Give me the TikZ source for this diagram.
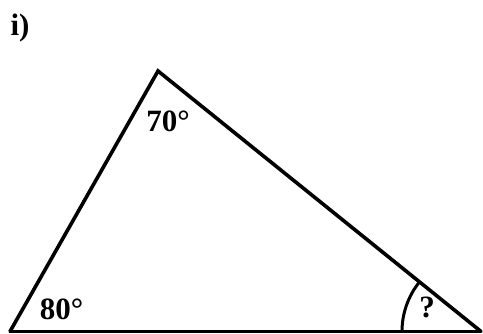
\documentclass[tikz,border=0pt]{standalone}
\usepackage{fontspec}
\setmainfont{Liberation Serif}
\usetikzlibrary{calc}
\begin{document}
\begin{tikzpicture}[x=1pt,y=1pt,
  side/.style={line width=3.6pt,line cap=round,line join=miter},
  base/.style={line width=2.4pt},
  lbl/.style={font=\bfseries\fontsize{31}{34}\selectfont,inner sep=0pt}]
\useasboundingbox (0,0) rectangle (483,334);
\coordinate (A) at (10,2.5);
\coordinate (B) at (158,263);
\coordinate (C) at (481,2.5);
\draw[side] (A) -- (B) -- (C);
\draw[base] (A) -- (C);
\draw[line width=3pt] ($(C)+(180:79)$) arc[start angle=180,end angle=141,radius=79];
\node[lbl] (ti) at (20,306) {i)};
\node[lbl] (a70) at (168,212.5) {70°};
\node[lbl] (a80) at (61.5,25) {80°};
\node[lbl] (q) at (427,26.5) {?};
\end{tikzpicture}
\end{document}
